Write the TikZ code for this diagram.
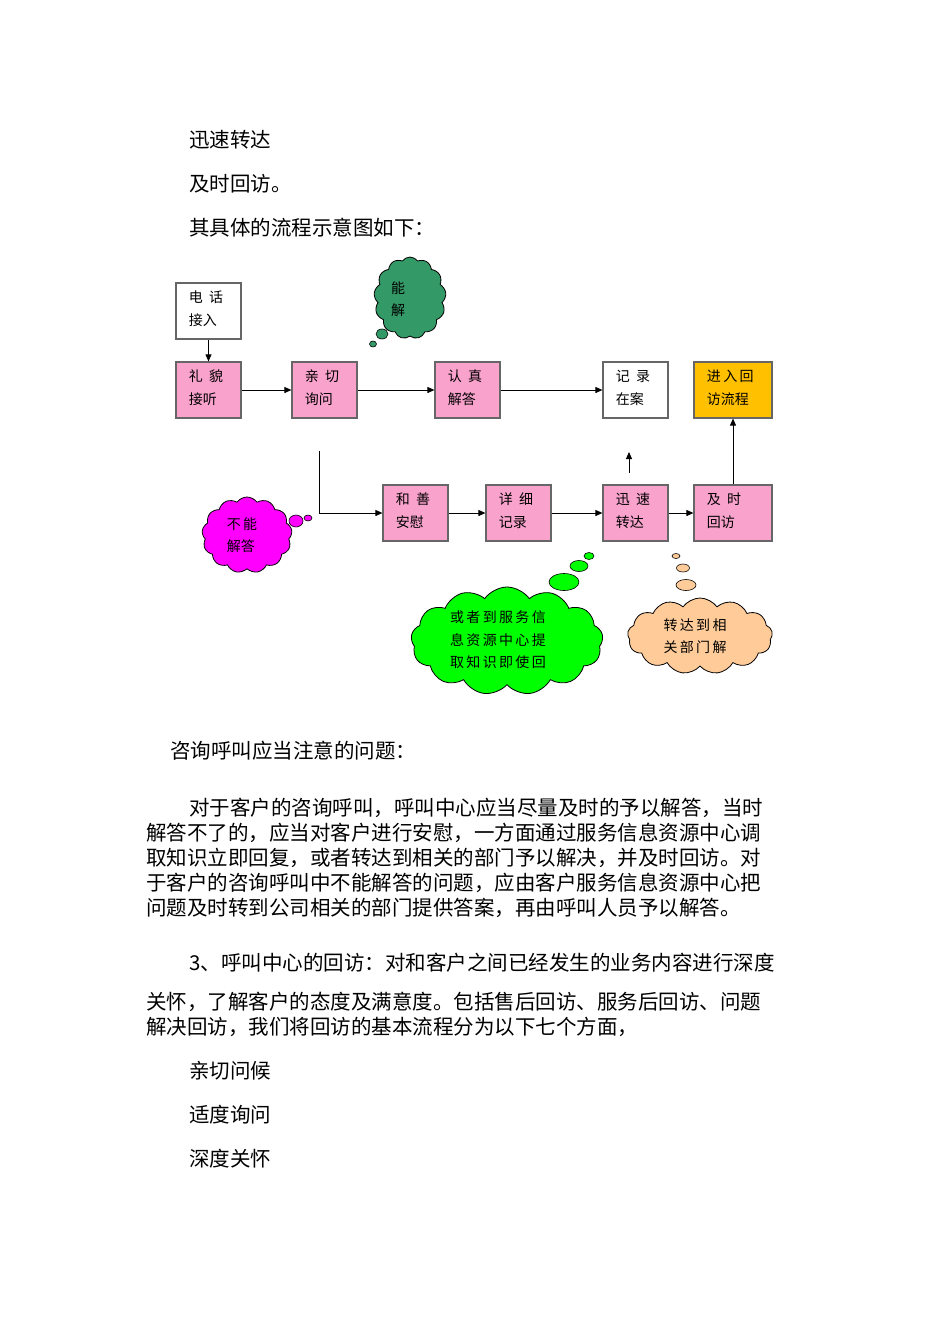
\documentclass[tikz,border=0pt]{standalone}
\usepackage{fontspec}
\setmainfont{Noto Sans CJK SC}
\usetikzlibrary{shapes.symbols,arrows.meta}
\definecolor{pinkbox}{HTML}{F9A2CC}
\definecolor{goldbox}{HTML}{FFC000}
\definecolor{dkgreen}{HTML}{339966}
\definecolor{magcloud}{HTML}{FF00FF}
\definecolor{ltgreen}{HTML}{00FF00}
\definecolor{peach}{HTML}{FFCC99}
\tikzset{
 box/.style={draw=gray!80!black,line width=1.2pt,minimum width=65pt,minimum height=56pt,inner sep=0pt},
 boxtext/.style={font=\fontsize{14}{23}\selectfont,align=left,anchor=north west},
 body/.style={anchor=west,inner sep=0pt,font=\fontsize{20.5}{24}\selectfont},
 arr/.style={-{Triangle[length=7pt,width=6pt]},line width=0.9pt},
 cl/.style={cloud,cloud puffs=13,cloud puff arc=110,draw=black,line width=0.8pt,align=left,inner sep=0pt},
 bub/.style={ellipse,draw=black,line width=0.6pt,inner sep=0pt}
}
\usetikzlibrary{shapes.geometric}
\begin{document}
\begin{tikzpicture}[x=1pt,y=-1pt]
\useasboundingbox (0,0) rectangle (950,1344);
\fill[white] (0,0) rectangle (950,1344);
% body text top
\node[body] (t1) at (189,140) {迅速转达};
\node[body] (t2) at (189,184) {及时回访。};
\node[body] (t3) at (189,228) {其具体的流程示意图如下：};
% boxes
\newcommand{\fbx}[6]{\node[box,fill=#2] (#1) at (#3,#4) {};
 \node[boxtext] at ([xshift=10pt,yshift=-5pt]#1.north west) {#5\\#6};}
\fbx{dh}{white}{208.5}{311}{电\ \ 话}{接入}
\fbx{lm}{pinkbox}{208.5}{390}{礼\ \ 貌}{接听}
\fbx{qq}{pinkbox}{324.5}{390}{亲\ \ 切}{询问}
\fbx{rz}{pinkbox}{467.5}{390}{认\ \ 真}{解答}
\fbx{jl}{white}{635.5}{390}{记\ \ 录}{在案}
\node[box,fill=goldbox,minimum width=78pt] (jr) at (733,390) {};
\node[boxtext] at ([xshift=10pt,yshift=-5pt]jr.north west) {进\,入\,回\\访流程};
\fbx{hs}{pinkbox}{415.5}{513}{和\ \ 善}{安慰}
\fbx{xx}{pinkbox}{518.5}{513}{详\ \ 细}{记录}
\fbx{xs}{pinkbox}{635.5}{513}{迅\ \ 速}{转达}
\node[box,fill=pinkbox,minimum width=78pt] (js) at (733,513) {};
\node[boxtext] at ([xshift=10pt,yshift=-5pt]js.north west) {及\ \ 时\\回访};
% arrows
\draw[arr] (dh) -- (lm);
\draw[arr] (lm) -- (qq);
\draw[arr] (qq) -- (rz);
\draw[arr] (rz) -- (jl);
\coordinate (b0) at (319,451);
\draw[arr] (b0) |- (hs);
\draw[arr] (hs) -- (xx);
\draw[arr] (xx) -- (xs);
\draw[arr] (xs) -- (js);
\coordinate (up1) at (629,473);
\coordinate (up2) at (629,452);
\draw[arr] (up1) -- (up2);
\draw[arr] (js.north -| 733,462) -- (jr.south);
% clouds
\node[cl,fill=dkgreen,minimum width=72pt,minimum height=82pt] (c1) at (410,298) {};
\node[font=\fontsize{14}{22}\selectfont,align=left] at (398,299) {能\\解};
\node[bub,fill=dkgreen,minimum width=12pt,minimum height=10pt] (c1a) at (382,334) {};
\node[bub,fill=dkgreen,minimum width=7pt,minimum height=6pt] (c1b) at (373,344) {};
\node[cl,fill=magcloud,minimum width=90pt,minimum height=76pt] (c2) at (247,535) {};
\node[font=\fontsize{14}{22}\selectfont,align=left] at (242,535) {不\,能\\解答};
\node[bub,fill=magcloud,minimum width=14pt,minimum height=12pt] (c2a) at (296,521) {};
\node[bub,fill=magcloud,minimum width=8pt,minimum height=6pt] (c2b) at (308,518) {};
\node[cl,fill=ltgreen,minimum width=192pt,minimum height=108pt] (c3) at (507,641) {};
\node[font=\fontsize{14}{22.5}\selectfont,align=left] at (498,640) {或\,者\,到\,服\,务\,信\\息\,资\,源\,中\,心\,提\\取\,知\,识\,即\,使\,回};
\node[bub,fill=ltgreen,minimum width=30pt,minimum height=17pt] (c3a) at (564,582) {};
\node[bub,fill=ltgreen,minimum width=18pt,minimum height=11pt] (c3b) at (579,566) {};
\node[bub,fill=ltgreen,minimum width=10pt,minimum height=7pt] (c3c) at (589,556) {};
\node[cl,fill=peach,minimum width=145pt,minimum height=76pt] (c4) at (700,636) {};
\node[font=\fontsize{14}{22.5}\selectfont,align=left] at (695,636) {转\,达\,到\,相\\关\,部\,门\,解};
\node[bub,fill=peach,minimum width=20pt,minimum height=11pt] (c4a) at (686,585) {};
\node[bub,fill=peach,minimum width=13pt,minimum height=8pt] (c4b) at (683,568) {};
\node[bub,fill=peach,minimum width=8pt,minimum height=5pt] (c4c) at (676,556) {};
% body text bottom
\node[body] (p0) at (170,751) {咨询呼叫应当注意的问题：};
\node[body] (p1) at (189,808) {对于客户的咨询呼叫，呼叫中心应当尽量及时的予以解答，当时};
\node[body] (p2) at (146,833) {解答不了的，应当对客户进行安慰，一方面通过服务信息资源中心调};
\node[body] (p3) at (146,858) {取知识立即回复，或者转达到相关的部门予以解决，并及时回访。对};
\node[body] (p4) at (146,883) {于客户的咨询呼叫中不能解答的问题，应由客户服务信息资源中心把};
\node[body] (p5) at (146,908) {问题及时转到公司相关的部门提供答案，再由呼叫人员予以解答。};
\node[body] (q1) at (189,963) {3、呼叫中心的回访：对和客户之间已经发生的业务内容进行深度};
\node[body] (q2) at (146,1002) {关怀，了解客户的态度及满意度。包括售后回访、服务后回访、问题};
\node[body] (q3) at (146,1027) {解决回访，我们将回访的基本流程分为以下七个方面，};
\node[body] (r1) at (189,1071) {亲切问候};
\node[body] (r2) at (189,1115) {适度询问};
\node[body] (r3) at (189,1159) {深度关怀};
\end{tikzpicture}
\end{document}
